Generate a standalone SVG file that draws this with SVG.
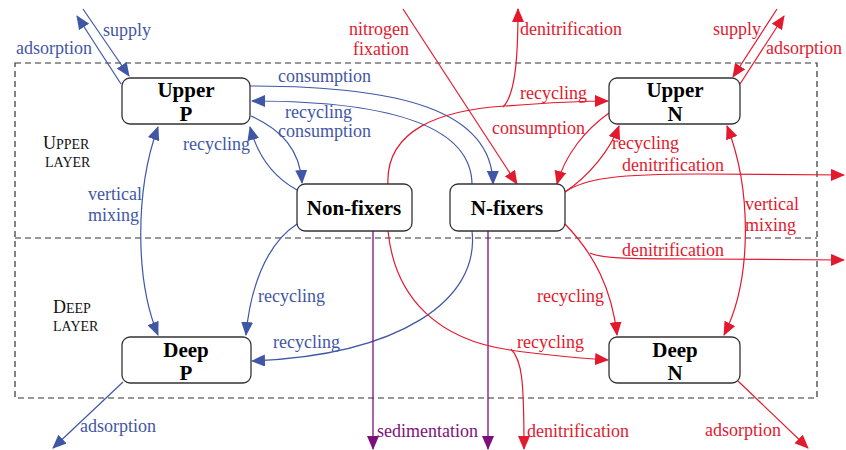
<svg xmlns="http://www.w3.org/2000/svg" width="846" height="450" viewBox="0 0 846 450">
<style>
.node rect{fill:#fff;stroke:#333;stroke-width:1.3}
.node text{font-family:"Liberation Serif",serif;font-weight:bold;font-size:21px;fill:#000;text-anchor:middle}
.b{stroke:#3f57a6;fill:none;stroke-width:1.2}
.r{stroke:#e3192e;fill:none;stroke-width:1.2}
.p{stroke:#7d0f7d;fill:none;stroke-width:1.3}
.lb,.lr,.lp,.ll{font-family:"Liberation Serif",serif;font-size:18px}
.lb{fill:#3f57a6}.lr{fill:#e3192e}.lp{fill:#7d0f7d}.ll{fill:#111}
.sc{font-size:14px}
.dash{fill:none;stroke:#333;stroke-width:1.2;stroke-dasharray:6 4}
.ab{marker-end:url(#mb)}.ar{marker-end:url(#mr)}.ap{marker-end:url(#mp)}
</style>
<defs>
<marker id="mb" markerUnits="userSpaceOnUse" markerWidth="14" markerHeight="12" refX="13" refY="6" orient="auto-start-reverse"><path d="M0,0 L14,6 L0,12 z" fill="#3f57a6"/></marker>
<marker id="mr" markerUnits="userSpaceOnUse" markerWidth="14" markerHeight="12" refX="13" refY="6" orient="auto-start-reverse"><path d="M0,0 L14,6 L0,12 z" fill="#e3192e"/></marker>
<marker id="mp" markerUnits="userSpaceOnUse" markerWidth="14" markerHeight="12" refX="13" refY="6" orient="auto-start-reverse"><path d="M0,0 L14,6 L0,12 z" fill="#7d0f7d"/></marker>
</defs>

<g id="layers">
<rect class="dash" x="15" y="63" width="802" height="335"/>
<line class="dash" x1="15" y1="238" x2="817" y2="238"/>
<text class="ll" x="43" y="149">U<tspan class="sc">PPER</tspan></text>
<text class="ll sc" x="45" y="167">LAYER</text>
<text class="ll" x="53" y="313">D<tspan class="sc">EEP</tspan></text>
<text class="ll sc" x="53" y="331">LAYER</text>
</g>

<g id="connectors">
<!-- blue -->
<path class="b ab" d="M83,9 L129,76"/>
<path class="b ab" d="M121,84 L77,16"/>
<path class="b ab" d="M250,86 C400,86 492,110 493,184"/>
<path class="b ab" d="M472,185 C472,130 400,101 252,101"/>
<path class="b ab" d="M251,116 C282,130 300,150 302,183"/>
<path class="b ab" d="M297,190 C270,175 256,150 250,127"/>
<path class="b" d="M158,127 C135,190 135,280 158,335" marker-start="url(#mb)" marker-end="url(#mb)"/>
<path class="b ab" d="M297,224 C265,245 250,290 246,335"/>
<path class="b ab" d="M472,231 C480,300 400,355 252,361"/>
<path class="b ab" d="M123,382 L53,448"/>
<!-- purple -->
<path class="p ap" d="M373,231 L373,449"/>
<path class="p ap" d="M488,231 L488,449"/>
<!-- red -->
<path class="r ar" d="M403,9 L517,184"/>
<path class="r ar" d="M388,185 C385,130 440,110 505,106 C545,103 575,101 608,101"/>
<path class="r ar" d="M503,107 C515,95 518,60 518,9"/>
<path class="r ar" d="M609,113 C585,130 565,155 557,184"/>
<path class="r ar" d="M565,192 C590,175 610,150 619,126"/>
<path class="r ar" d="M565,192 C585,178 620,174 700,174 L844,175"/>
<path class="r ar" d="M565,224 C595,255 612,290 617,335"/>
<path class="r ar" d="M590,253 C600,258 620,259 700,259 L844,260"/>
<path class="r" d="M727,126 C752,190 752,280 724,335" marker-start="url(#mr)" marker-end="url(#mr)"/>
<path class="r ar" d="M777,9 L733,77"/>
<path class="r ar" d="M740,84 L784,16"/>
<path class="r ar" d="M388,231 C395,300 440,340 510,350 C550,356 580,358 608,360"/>
<path class="r ar" d="M511,349 C522,360 524,380 524,449"/>
<path class="r ar" d="M738,381 L808,448"/>
</g>

<g id="labels">
<text class="lb" x="103" y="36">supply</text>
<text class="lb" x="16" y="54">adsorption</text>
<text class="lb" x="278" y="82">consumption</text>
<text class="lb" x="285" y="118">recycling</text>
<text class="lb" x="278" y="137">consumption</text>
<text class="lb" x="183" y="150">recycling</text>
<text class="lb" x="88" y="200">vertical</text>
<text class="lb" x="88" y="221">mixing</text>
<text class="lb" x="258" y="302">recycling</text>
<text class="lb" x="273" y="348">recycling</text>
<text class="lb" x="80" y="432">adsorption</text>
<text class="lp" x="377" y="437">sedimentation</text>
<text class="lr" x="409" y="35" text-anchor="end">nitrogen</text>
<text class="lr" x="409" y="55" text-anchor="end">fixation</text>
<text class="lr" x="520" y="35">denitrification</text>
<text class="lr" x="520" y="99">recycling</text>
<text class="lr" x="492" y="134">consumption</text>
<text class="lr" x="612" y="149">recycling</text>
<text class="lr" x="622" y="171">denitrification</text>
<text class="lr" x="745" y="210">vertical</text>
<text class="lr" x="745" y="231">mixing</text>
<text class="lr" x="622" y="256">denitrification</text>
<text class="lr" x="537" y="302">recycling</text>
<text class="lr" x="517" y="348">recycling</text>
<text class="lr" x="527" y="437">denitrification</text>
<text class="lr" x="705" y="436">adsorption</text>
<text class="lr" x="713" y="35">supply</text>
<text class="lr" x="766" y="54">adsorption</text>
</g>

<g id="upperP" class="node"><rect x="122" y="78" width="128" height="46" rx="8"/><text x="186" y="97">Upper</text><text x="186" y="121">P</text></g>
<g id="upperN" class="node"><rect x="609" y="78" width="131" height="46" rx="8"/><text x="675" y="97">Upper</text><text x="675" y="121">N</text></g>
<g id="nonfixers" class="node"><rect x="297" y="184" width="115" height="47" rx="8"/><text x="354" y="215">Non-fixers</text></g>
<g id="nfixers" class="node"><rect x="450" y="184" width="115" height="47" rx="8"/><text x="507" y="215">N-fixers</text></g>
<g id="deepP" class="node"><rect x="122" y="337" width="129" height="46" rx="8"/><text x="186" y="357">Deep</text><text x="186" y="380">P</text></g>
<g id="deepN" class="node"><rect x="609" y="337" width="131" height="46" rx="8"/><text x="675" y="357">Deep</text><text x="675" y="380">N</text></g>
</svg>
